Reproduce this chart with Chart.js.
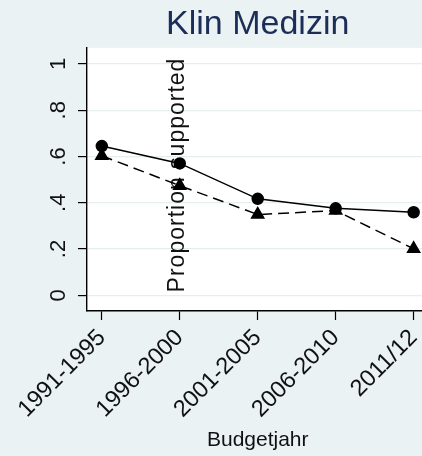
<!DOCTYPE html>
<html>
<head>
<meta charset="utf-8">
<script src="https://cdn.jsdelivr.net/npm/chart.js@4"></script>
<style>
  html, body { margin: 0; padding: 0; overflow: hidden; background: #EAF2F3; }
  #wrap { position: absolute; left: 0; top: 0; }
</style>
</head>
<body>
<div id="wrap"><canvas id="chart" width="438" height="456"></canvas></div>
<script>
const periods = ["1991-1995", "1996-2000", "2001-2005", "2006-2010", "2011/12"];
const circleValues = [0.645, 0.570, 0.417, 0.376, 0.359];
const triangleValues = [0.603, 0.474, 0.349, 0.366, 0.201];
const yTicks = [0, 0.2, 0.4, 0.6, 0.8, 1];

const FONT = "'Liberation Sans', Arial, Helvetica, sans-serif";

function toPoints(values) {
  return values.map((v, i) => ({ x: i, y: v }));
}

function yLabel(v) {
  if (v === 0) return "0";
  if (v === 1) return "1";
  return v.toFixed(1).replace("0.", ".");
}

// white plot region behind the grid
const plotBackground = {
  id: "plotBackground",
  beforeDraw(chart) {
    const a = chart.chartArea;
    const ctx = chart.ctx;
    ctx.save();
    ctx.fillStyle = "#FFFFFF";
    ctx.fillRect(a.left, a.top, a.right - a.left, a.bottom - a.top);
    ctx.restore();
  }
};

// vertical y tick labels and the axis title that sits inside the plot
const verticalText = {
  id: "verticalText",
  beforeDatasetsDraw(chart) {
    const ctx = chart.ctx;
    const y = chart.scales.y;
    ctx.save();
    ctx.fillStyle = "#111111";
    ctx.textAlign = "center";
    ctx.textBaseline = "alphabetic";
    ctx.font = "22px " + FONT;
    yTicks.forEach(v => {
      ctx.save();
      ctx.translate(65, y.getPixelForValue(v));
      ctx.rotate(-Math.PI / 2);
      ctx.fillText(yLabel(v), 0, 0);
      ctx.restore();
    });
    ctx.save();
    ctx.font = "23px " + FONT;
    if ("letterSpacing" in ctx) ctx.letterSpacing = "1px";
    ctx.translate(184, 175);
    ctx.rotate(-Math.PI / 2);
    ctx.fillText("Proportion supported", 0, 0);
    ctx.restore();
    ctx.restore();
  }
};

new Chart(document.getElementById("chart"), {
  type: "line",
  data: {
    datasets: [
      {
        label: "circles",
        data: toPoints(circleValues),
        borderColor: "#000000",
        backgroundColor: "#000000",
        borderWidth: 1.5,
        pointStyle: "circle",
        pointRadius: 5.5,
        pointHoverRadius: 5.5,
        tension: 0
      },
      {
        label: "triangles",
        data: toPoints(triangleValues),
        borderColor: "#000000",
        backgroundColor: "#000000",
        borderWidth: 1.5,
        borderDash: [11, 6],
        pointStyle: "triangle",
        pointRadius: 7,
        pointHoverRadius: 7,
        tension: 0
      }
    ]
  },
  options: {
    responsive: false,
    animation: false,
    layout: { padding: 0 },
    plugins: {
      legend: { display: false },
      tooltip: { enabled: false },
      title: {
        display: true,
        text: "Klin Medizin",
        color: "#1C2D57",
        fullSize: false,
        font: { family: FONT, size: 34, weight: "normal", lineHeight: 1.2 },
        padding: { top: 4, bottom: 3 }
      }
    },
    scales: {
      x: {
        type: "linear",
        min: -0.19,
        max: 4.19,
        ticks: {
          stepSize: 1,
          includeBounds: false,
          minRotation: 45,
          maxRotation: 45,
          padding: 4,
          color: "#111111",
          font: { family: FONT, size: 23.5 },
          callback: v => periods[v]
        },
        grid: {
          drawOnChartArea: false,
          drawTicks: true,
          tickLength: 9,
          tickColor: "#000000",
          tickWidth: 1.2
        },
        border: { display: true, color: "#000000", width: 1.4 },
        title: {
          display: true,
          text: "Budgetjahr",
          color: "#111111",
          font: { family: FONT, size: 21 },
          padding: { top: 0, bottom: 3 }
        },
        afterFit: scale => { scale.height = 145; }
      },
      y: {
        min: -0.068,
        max: 1.07,
        ticks: {
          display: false,
          stepSize: 0.2,
          includeBounds: false
        },
        grid: {
          color: "#E6EEF0",
          lineWidth: 1.2,
          drawTicks: true,
          tickLength: 9,
          tickColor: "#000000",
          tickWidth: 1.2
        },
        border: { display: true, color: "#000000", width: 1.4 },
        afterFit: scale => { scale.width = 87; }
      }
    }
  },
  plugins: [plotBackground, verticalText]
});
</script>
</body>
</html>
